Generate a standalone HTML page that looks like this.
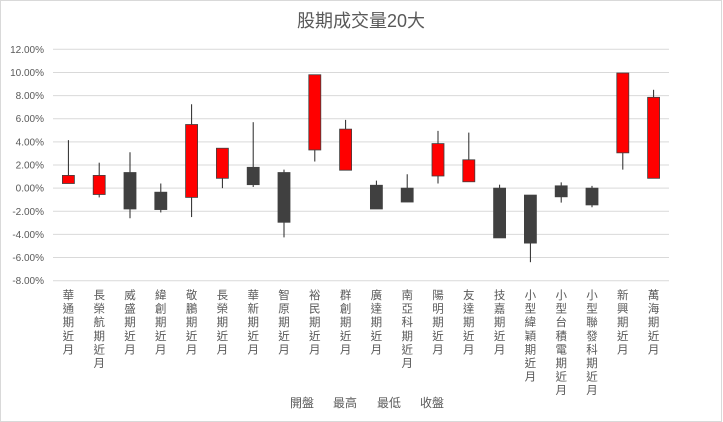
<!DOCTYPE html>
<html><head><meta charset="utf-8"><style>
body{margin:0;background:#fff;}
svg{display:block;font-family:"Liberation Sans","Noto Sans CJK TC",sans-serif;}
</style></head><body>
<svg id="chart" width="723" height="422" viewBox="0 0 723 422">
<rect x="0.5" y="0.5" width="721" height="421" fill="#fff" stroke="#d9d9d9"/>
<text x="361" y="27" text-anchor="middle" font-size="18" fill="#595959">股期成交量20大</text>
<g id="grid"></g><g id="yticks"></g><g id="marks"></g><g id="xlabels"></g>
<g font-size="12" fill="#595959">
<text x="290" y="407">開盤</text>
<text x="333" y="407">最高</text>
<text x="377" y="407">最低</text>
<text x="420" y="407">收盤</text>
</g>
</svg>
<script>
const categories=["華通期近月","長榮航期近月","威盛期近月","緯創期近月","敬鵬期近月","長榮期近月","華新期近月","智原期近月","裕民期近月","群創期近月","廣達期近月","南亞科期近月","陽明期近月","友達期近月","技嘉期近月","小型緯穎期近月","小型台積電期近月","小型聯發科期近月","新興期近月","萬海期近月"];
const openVals=[0.4,-0.55,1.35,-0.35,-0.8,0.85,1.8,1.35,3.3,1.55,0.25,0,1.05,0.55,0,-0.6,0.2,0,3.05,0.85];
const highVals=[4.15,2.2,3.1,0.4,7.25,3.45,5.7,1.6,9.8,5.9,0.65,1.2,4.95,4.8,0.3,-0.6,0.5,0.2,9.95,8.5];
const lowVals=[0.4,-0.8,-2.6,-2.1,-2.5,0,0.1,-4.25,2.3,1.55,-1.8,-1.2,0.4,0.55,-4.3,-6.4,-1.25,-1.65,1.6,0.85];
const closeVals=[1.1,1.1,-1.8,-1.85,5.5,3.45,0.3,-2.95,9.8,5.1,-1.8,-1.2,3.85,2.45,-4.3,-4.75,-0.75,-1.45,9.95,7.85];
const yTicks=[12,10,8,6,4,2,0,-2,-4,-6,-8];
const NS="http://www.w3.org/2000/svg";
const L=53,R=669,T=49.3,B=280.7,ymin=-8,ymax=12;
const y=v=>T+(ymax-v)/(ymax-ymin)*(B-T);
const step=(R-L)/categories.length;
const x=i=>L+step*(i+0.5);
function mk(tag,attrs,parent){const e=document.createElementNS(NS,tag);for(const k in attrs)e.setAttribute(k,attrs[k]);document.getElementById(parent).appendChild(e);return e;}
yTicks.forEach(t=>{
 const g=mk("line",{x1:L,x2:R,y1:y(t),y2:y(t),stroke:"#d9d9d9","stroke-width":1},"grid");
 
 
 const tx=mk("text",{x:44,y:y(t)+3.5,"text-anchor":"end","font-size":10,fill:"#595959"},"yticks");
 tx.textContent=t.toFixed(2)+"%";
 
 
});
categories.forEach((c,i)=>{
 const cx=x(i),o=openVals[i],cl=closeVals[i],up=cl>=o;
 const w=mk("line",{x1:cx,x2:cx,y1:y(highVals[i]),y2:y(lowVals[i]),stroke:"#262626","stroke-width":1},"marks");
 
 
 const top=y(Math.max(o,cl)),bot=y(Math.min(o,cl));
 const b=mk("rect",{x:cx-6,y:top,width:12,height:Math.max(1,bot-top),fill:up?"#ff0000":"#404040",stroke:"#404040","stroke-width":0.8},"marks");
 
 
 const t=mk("text",{x:cx,"font-size":11.5,fill:"#595959","text-anchor":"middle"},"xlabels");
 
 
 [...c].forEach((ch,k)=>{const s=document.createElementNS(NS,"tspan");s.setAttribute("x",cx);s.setAttribute("y",299+k*13.6);s.textContent=ch;t.appendChild(s);});
});
</script>
</body></html>
